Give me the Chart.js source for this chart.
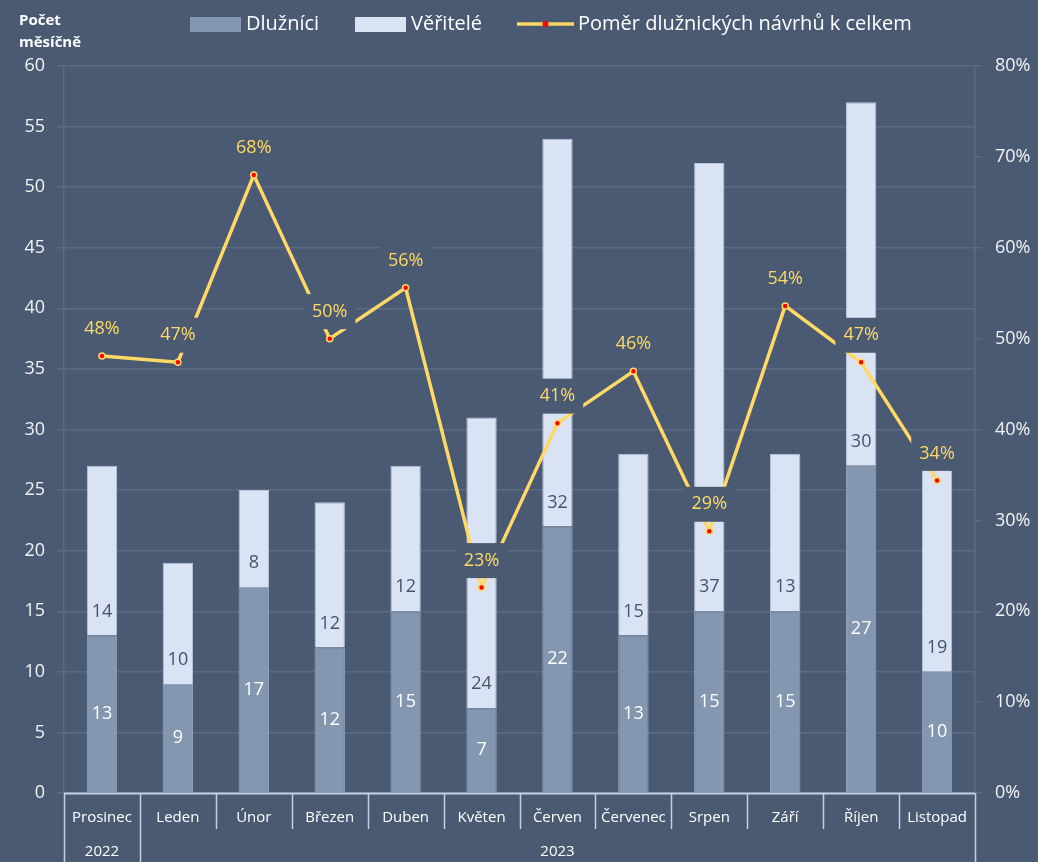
<!DOCTYPE html>
<html>
<head>
<meta charset="utf-8">
<script src="https://cdn.jsdelivr.net/npm/chart.js@4.4.0/dist/chart.umd.min.js"></script>
<style>
  html, body { margin: 0; padding: 0; background: #4a5a73; }
  #wrap { width: 1038px; height: 862px; }
</style>
</head>
<body>
<div id="wrap"><canvas id="chart"></canvas></div>
<script>
// data
const months = ['Prosinec', 'Leden', 'Únor', 'Březen', 'Duben', 'Květen', 'Červen', 'Červenec', 'Srpen', 'Září', 'Říjen', 'Listopad'];
const years = [
    { label: '2022', from: 0, to: 0 },
    { label: '2023', from: 1, to: 11 }
];
const dluznici = [13, 9, 17, 12, 15, 7, 22, 13, 15, 15, 27, 10];
const veritele = [14, 10, 8, 12, 12, 24, 32, 15, 37, 13, 30, 19];
const pomer = [48.1, 47.4, 68.0, 50.0, 55.6, 22.6, 40.7, 46.4, 28.8, 53.6, 47.4, 34.4];

const BG = '#4a5a73';
const FONT = '"Open Sans", "Noto Sans", sans-serif';
const YELLOW = '#ffd966';
const DARK_BAR = '#8497b0';
const LIGHT_BAR = '#dae3f3';
const SEP = '#c4cfe0';

const decor = {
    id: 'decor',
    beforeDraw(chart) {
        const ctx = chart.ctx;
        ctx.save();
        ctx.fillStyle = BG;
        ctx.fillRect(0, 0, chart.width, chart.height);
        ctx.restore();
    },
    afterDatasetsDraw(chart) {
        const ctx = chart.ctx;
        const m0 = chart.getDatasetMeta(0), m1 = chart.getDatasetMeta(1), m2 = chart.getDatasetMeta(2);
        ctx.save();
        ctx.textAlign = 'center';
        ctx.textBaseline = 'middle';
        ctx.font = '18px ' + FONT;

        m0.data.forEach((bar, i) => {
            ctx.fillStyle = '#ffffff';
            ctx.fillText(String(dluznici[i]), bar.x, (bar.y + bar.base) / 2);
        });
        m1.data.forEach((bar, i) => {
            ctx.fillStyle = '#44546a';
            ctx.fillText(String(veritele[i]), bar.x, bar.base - 24);
        });

        // percentage labels with a background box
        m2.data.forEach((pt, i) => {
            const txt = Math.round(pomer[i]) + '%';
            const w = ctx.measureText(txt).width + 16;
            const h = 35;
            const cy = pt.y - 27;
            ctx.fillStyle = BG;
            ctx.fillRect(pt.x - w / 2, cy - h / 2, w, h);
            ctx.fillStyle = YELLOW;
            ctx.fillText(txt, pt.x, cy);
        });
        ctx.restore();
    },
    afterDraw(chart) {
        const ctx = chart.ctx;
        const area = chart.chartArea;
        const xs = chart.scales.x;
        const cw = (area.right - area.left) / months.length;
        ctx.save();

        // category separators
        ctx.strokeStyle = SEP;
        ctx.lineWidth = 1.5;
        const longLines = [0, 1, months.length];
        for (let i = 0; i <= months.length; i++) {
            const x = Math.round(area.left + i * cw) + 0.5;
            ctx.beginPath();
            ctx.moveTo(x, area.bottom);
            ctx.lineTo(x, longLines.includes(i) ? chart.height : area.bottom + 36);
            ctx.stroke();
        }
        ctx.lineWidth = 2;
        ctx.beginPath();
        ctx.moveTo(area.left, area.bottom + 0.5);
        ctx.lineTo(area.right, area.bottom + 0.5);
        ctx.stroke();

        // year row
        ctx.fillStyle = '#ffffff';
        ctx.font = '15px ' + FONT;
        ctx.textAlign = 'center';
        ctx.textBaseline = 'middle';
        years.forEach(y => {
            const cx = (xs.getPixelForValue(y.from) + xs.getPixelForValue(y.to)) / 2;
            ctx.fillText(y.label, cx, area.bottom + 59);
        });

        // axis title
        ctx.textAlign = 'left';
        ctx.font = 'bold 15px ' + FONT;
        ctx.fillText('Počet', 19, 21);
        ctx.fillText('měsíčně', 19, 43);

        // legend
        ctx.font = '20px ' + FONT;
        const ly = 24;
        ctx.fillStyle = DARK_BAR;
        ctx.fillRect(190, 17, 51, 15);
        ctx.fillStyle = '#ffffff';
        ctx.fillText('Dlužníci', 246, ly);
        ctx.fillStyle = LIGHT_BAR;
        ctx.fillRect(355, 17, 51, 15);
        ctx.fillStyle = '#ffffff';
        ctx.fillText('Věřitelé', 411, ly);
        ctx.strokeStyle = YELLOW;
        ctx.lineWidth = 3.5;
        ctx.beginPath();
        ctx.moveTo(517, ly);
        ctx.lineTo(574, ly);
        ctx.stroke();
        ctx.beginPath();
        ctx.arc(545.5, ly, 3, 0, Math.PI * 2);
        ctx.fillStyle = '#ff0000';
        ctx.fill();
        ctx.fillStyle = '#ffffff';
        ctx.fillText('Poměr dlužnických návrhů k celkem', 578, ly);
        ctx.restore();
    }
};

window.onload = function() {
    const canvas = document.getElementById('chart');
    const ctx = canvas.getContext('2d');

    new Chart(ctx, {
        data: {
            labels: months,
            datasets: [
                {
                    type: 'bar',
                    label: 'Dlužníci',
                    data: dluznici,
                    backgroundColor: DARK_BAR,
                    borderColor: '#93a5bd',
                    borderWidth: 1,
                    barPercentage: 0.4,
                    categoryPercentage: 1,
                    yAxisID: 'y',
                    order: 2
                },
                {
                    type: 'bar',
                    label: 'Věřitelé',
                    data: veritele,
                    backgroundColor: LIGHT_BAR,
                    borderColor: '#b9c6da',
                    borderWidth: 1,
                    barPercentage: 0.4,
                    categoryPercentage: 1,
                    yAxisID: 'y',
                    order: 2
                },
                {
                    type: 'line',
                    label: 'Poměr dlužnických návrhů k celkem',
                    data: pomer,
                    borderColor: YELLOW,
                    borderWidth: 3.5,
                    tension: 0,
                    pointRadius: 3,
                    pointBackgroundColor: '#ff0000',
                    pointBorderColor: YELLOW,
                    pointBorderWidth: 1.5,
                    yAxisID: 'y1',
                    order: 1
                }
            ]
        },
        options: {
            responsive: true,
            maintainAspectRatio: false,
            animation: false,
            layout: { padding: { top: 66, left: 0, right: 0, bottom: 0 } },
            plugins: {
                legend: { display: false },
                tooltip: { enabled: false }
            },
            scales: {
                x: {
                    stacked: true,
                    grid: { display: false },
                    border: { display: false },
                    ticks: { color: '#ffffff', font: { family: FONT, size: 15 }, padding: 8, maxRotation: 0, autoSkip: false },
                    afterFit: s => { s.height = 69; }
                },
                y: {
                    stacked: true,
                    position: 'left',
                    min: 0,
                    max: 60,
                    ticks: { stepSize: 5, color: '#f2f2f2', font: { family: FONT, size: 18 }, padding: 12 },
                    grid: { color: '#5b6b84', lineWidth: 1.5, tickLength: 7 },
                    border: { color: '#5b6b84', width: 1.5 },
                    afterFit: s => { s.width = 64; }
                },
                y1: {
                    position: 'right',
                    min: 0,
                    max: 80,
                    ticks: { stepSize: 10, color: '#f2f2f2', font: { family: FONT, size: 18 }, padding: 13, callback: v => v + '%' },
                    grid: { drawOnChartArea: false, color: '#5b6b84', lineWidth: 1.5, tickLength: 7 },
                    border: { color: '#5b6b84', width: 1.5 },
                    afterFit: s => { s.width = 63; }
                }
            }
        },
        plugins: [decor]
    });
};
</script>
</body>
</html>
